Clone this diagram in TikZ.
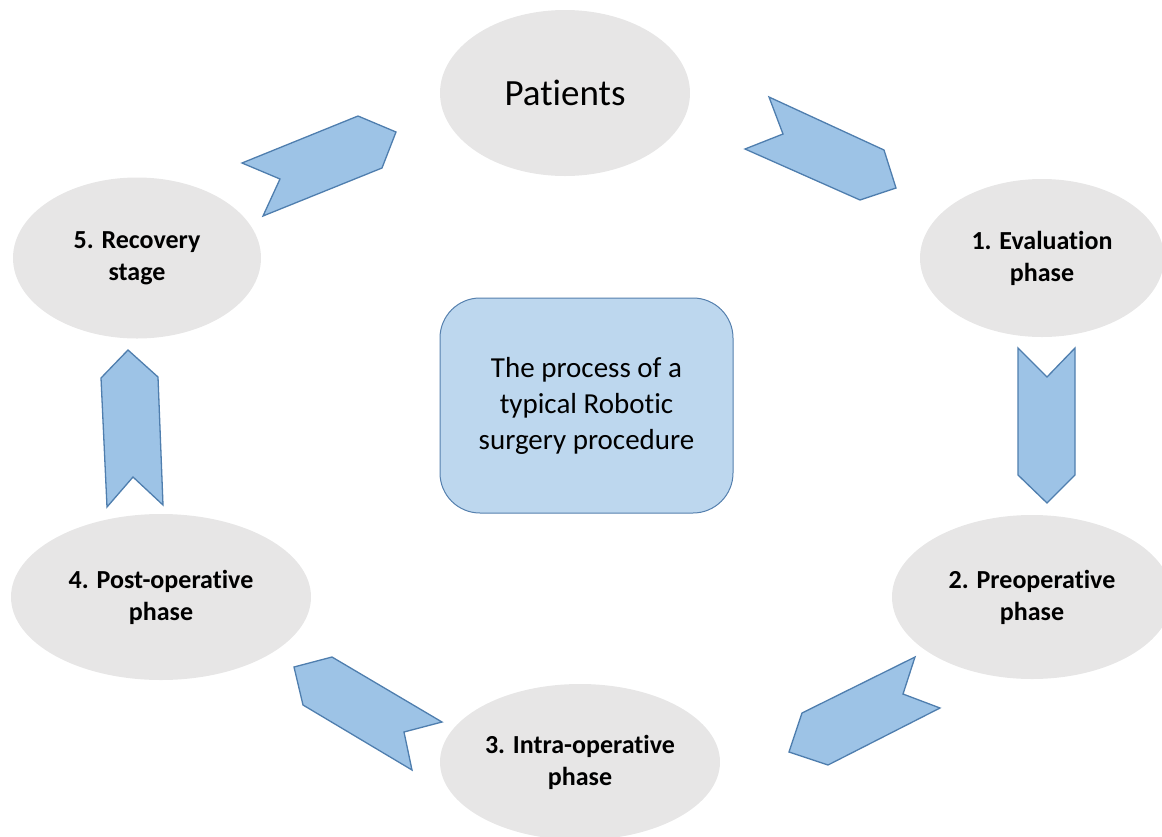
\documentclass[tikz,border=0pt]{standalone}
\usepackage{fontspec}
\setmainfont{Carlito}[RawFeature={-liga;-clig;-dlig}]
\usetikzlibrary{shapes.geometric}
\newcommand{\nolig}{\kern0pt }
\definecolor{ellgray}{HTML}{E7E6E6}
\definecolor{arrfill}{HTML}{9DC3E6}
\definecolor{arrline}{HTML}{4F7EAE}
\definecolor{boxfill}{HTML}{BDD7EE}
\definecolor{boxline}{HTML}{5580AE}
\tikzset{
  phase/.style={ellipse, fill=ellgray, draw=none, inner sep=0pt, align=center,
    font=\fontsize{26}{32}\selectfont\bfseries, text=black},
  chevron/.style={fill=arrfill, draw=arrline, line width=1.3pt, line join=miter},
  centerbox/.style={rectangle, rounded corners=40pt, fill=boxfill, draw=boxline,
    line width=1pt, minimum width=293pt, minimum height=215pt, align=center,
    font=\fontsize{29}{36}\selectfont}
}
\begin{document}
\begin{tikzpicture}[x=1pt,y=-1pt]
\useasboundingbox (0,0) rectangle (1162,836);
\clip (0,0) rectangle (1162,836);
% phases
\node[phase, minimum width=250pt, minimum height=166pt, font=\fontsize{37}{44}\selectfont] (pat) at (565,93) {Pat\nolig ients};
\node[phase, minimum width=244pt, minimum height=158pt] (eval) at (1042,258) {1. Evaluat\nolig ion\\phase};
\node[phase, minimum width=280pt, minimum height=164pt] (preop) at (1032,597) {2. Preoperat\nolig ive\\phase};
\node[phase, minimum width=280pt, minimum height=156pt] (intra) at (580,762) {3. Intra-operat\nolig ive\\phase};
\node[phase, minimum width=300pt, minimum height=166pt] (post) at (161,597) {4. Post-operat\nolig ive\\phase};
\node[phase, minimum width=248pt, minimum height=161pt] (recov) at (137,258) {5. Recovery\\stage};
% center box
\node[centerbox] (center) at (586.5,405.5) {The process of a\\typical Robot\nolig ic\\surgery procedure};
% chevron arrows
\draw[chevron] (242,163) -- (358,116) -- (396,132) -- (382,168) -- (263,216) -- (280,179) -- cycle;
\draw[chevron] (769,97) -- (884,150) -- (896,188) -- (860,200) -- (745,149) -- (783,134) -- cycle;
\draw[chevron] (1018,348) -- (1047,377) -- (1075,348) -- (1075,475) -- (1047,503) -- (1018,475) -- cycle;
\draw[chevron] (915,657) -- (903,694) -- (940,708) -- (828,765) -- (789,752) -- (802,713) -- cycle;
\draw[chevron] (442,722) -- (332,657) -- (294,667) -- (303,705) -- (412,770) -- (404,732) -- cycle;
\draw[chevron] (128,350) -- (158,377) -- (163,505) -- (133,477) -- (107,507) -- (101,378) -- cycle;
\end{tikzpicture}
\end{document}
